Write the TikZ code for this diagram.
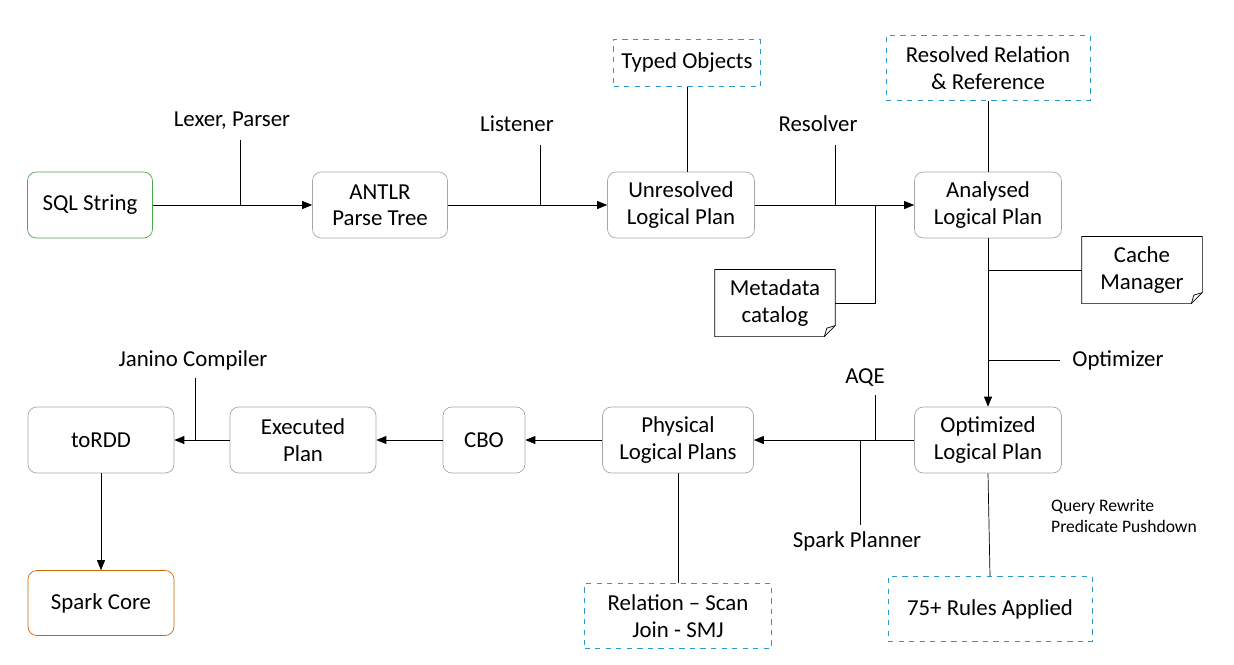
\documentclass[tikz,border=0pt]{standalone}
\usepackage{fontspec}
\setmainfont{Carlito}
\usetikzlibrary{arrows.meta}
\begin{document}
\begin{tikzpicture}[x=0.02cm,y=-0.02cm,
  font=\fontsize{13}{15}\selectfont,
  box/.style={draw=gray!70,rounded corners=5pt,minimum height=1.32cm,align=center,inner sep=2pt},
  dbox/.style={draw=cyan!60!teal,dashed,align=center,inner sep=2pt},
  notebox/.style={align=center,inner sep=2pt,minimum width=2.4cm,minimum height=1.33cm},
  arr/.style={-{Triangle[length=2mm,width=1.6mm]},black},
  ln/.style={black}]
\useasboundingbox (0,0) rectangle (1234,664);
\node[box,draw=green!50!black!70,minimum width=2.5cm] (sql) at (90,205) {SQL String};
\node[box,minimum width=2.7cm] (antlr) at (380,205) {ANTLR\\Parse Tree};
\node[box,minimum width=2.94cm] (unres) at (681,205) {Unresolved\\Logical Plan};
\node[box,minimum width=2.94cm] (anal) at (988,205) {Analysed\\Logical Plan};
\node[box,minimum width=2.94cm] (opt) at (988,440) {Optimized\\Logical Plan};
\node[box,minimum width=3.02cm] (phys) at (678,440) {Physical\\Logical Plans};
\node[box,minimum width=1.64cm] (cbo) at (484,440) {CBO};
\node[box,minimum width=2.92cm] (exec) at (303,440) {Executed\\Plan};
\node[box,minimum width=2.92cm] (rdd) at (101,440) {toRDD};
\node[box,draw=orange!80!black,minimum width=2.92cm,minimum height=1.3cm] (core) at (101,603) {Spark Core};
\node[dbox,minimum width=2.94cm,minimum height=0.94cm] (typed) at (687,63) {Typed Objects};
\node[dbox,minimum width=4.08cm,minimum height=1.3cm] (resrel) at (988,68) {Resolved Relation\\\& Reference};
\node[dbox,minimum width=4.08cm,minimum height=1.3cm] (rules) at (990,609) {75+ Rules Applied};
\node[dbox,minimum width=3.74cm,minimum height=1.3cm] (relscan) at (678,616) {Relation -- Scan\\Join - SMJ};
\node[notebox] (meta) at (775,303) {Metadata\\catalog};
\node[notebox] (cache) at (1142,270) {Cache\\Manager};
\foreach \n in {meta,cache}{
  \draw (\n.north west) -- (\n.north east) -- ([yshift=0.22cm]\n.south east) -- ([xshift=-0.22cm]\n.south east) -- (\n.south west) -- cycle;
  \draw ([yshift=0.22cm]\n.south east) -- ([xshift=-0.17cm,yshift=0.17cm]\n.south east) -- ([xshift=-0.22cm]\n.south east);
}
% labels
\node (lp) at (232,121) {Lexer, Parser};
\node (lis) at (517,124) {Listener};
\node (resv) at (818,124) {Resolver};
\node (optz) at (1118,360) {Optimizer};
\node (aqe) at (865,378) {AQE};
\node (spl) at (857,541) {Spark Planner};
\node (jan) at (193,360) {Janino Compiler};
\node[align=left,anchor=west,font=\fontsize{10}{11.5}\selectfont] (qr) at (1045,516) {Query Rewrite\\Predicate Pushdown};
\coordinate (c1) at (240,140); \coordinate (c1b) at (240,205);
\coordinate (c2) at (540,145); \coordinate (c2b) at (540,205);
\coordinate (c3) at (835,145); \coordinate (c3b) at (835,205);
\coordinate (c4) at (875,205); \coordinate (c4b) at (875,303);
\coordinate (c5) at (988,270);
\coordinate (c6) at (988,360); \coordinate (c6b) at (1060,360);
\coordinate (c7) at (875,395); \coordinate (c7b) at (875,440);
\coordinate (c8) at (860,440); \coordinate (c8b) at (860,525);
\coordinate (c9) at (195,378); \coordinate (c9b) at (195,440);
% connectors
\draw[arr] (sql) -- (antlr);
\draw[arr] (antlr) -- (unres);
\draw[arr] (unres) -- (anal);
\draw[arr] (anal) -- (opt);
\draw[arr] (opt) -- (phys);
\draw[arr] (phys) -- (cbo);
\draw[arr] (cbo) -- (exec);
\draw[arr] (exec) -- (rdd);
\draw[arr] (rdd) -- (core);
\draw[ln] (c1) -- (c1b);
\draw[ln] (c2) -- (c2b);
\draw[ln] (c3) -- (c3b);
\draw[ln] (meta.east |- c4b) -- (c4b) -- (c4);
\draw[ln] (typed) -- (typed |- unres.north);
\draw[ln] (resrel) -- (anal);
\draw[ln] (c5) -- (cache.west);
\draw[ln] (c6) -- (c6b);
\draw[ln] (c7) -- (c7b);
\draw[ln] (c8) -- (c8b);
\draw[ln] (c9) -- (c9b);
\draw[ln] (opt.south) -- (rules.north);
\draw[ln] (phys) -- (relscan);
\end{tikzpicture}
\end{document}
